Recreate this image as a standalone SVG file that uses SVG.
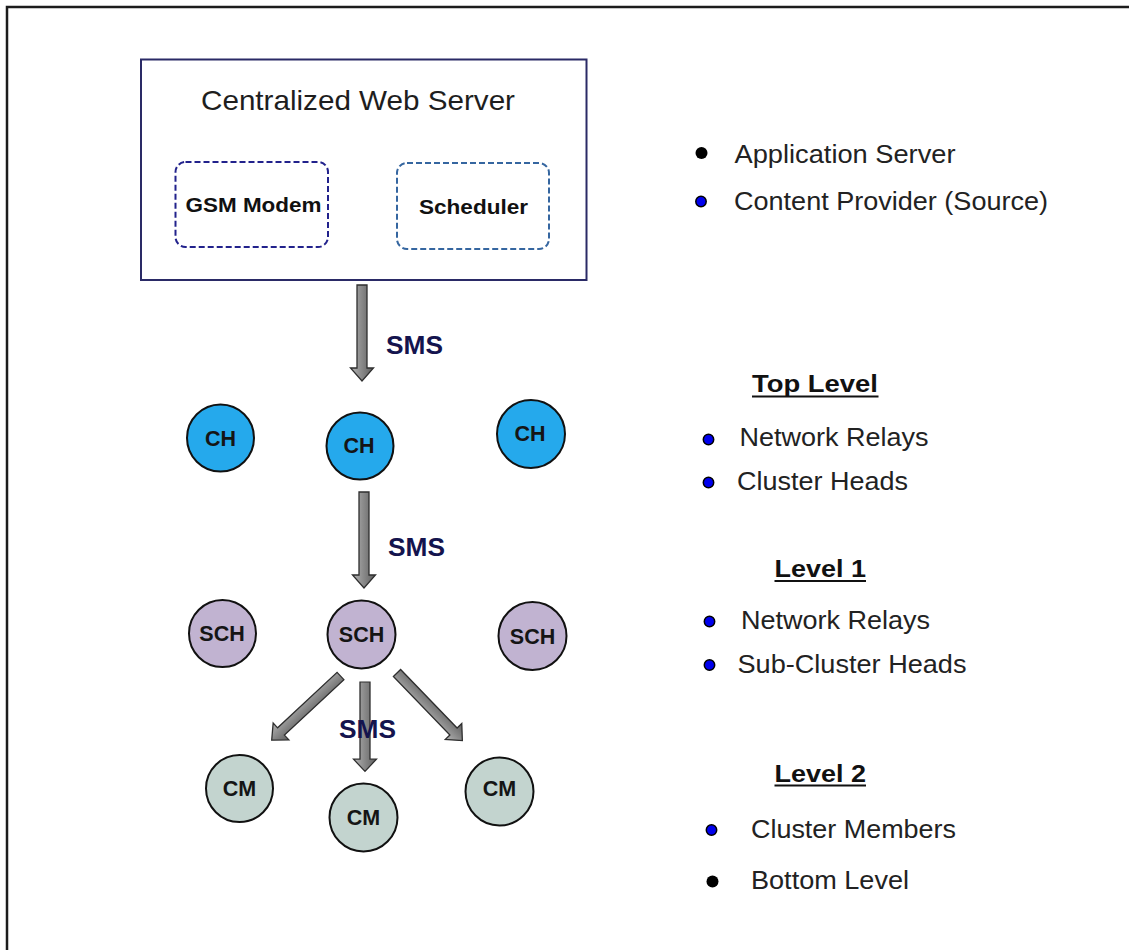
<svg xmlns="http://www.w3.org/2000/svg" width="1129" height="950" viewBox="0 0 1129 950">
  <defs>
    <linearGradient id="shaftGrad" x1="0" y1="0" x2="1" y2="0">
      <stop offset="0" stop-color="#b4b4b4"/>
      <stop offset="0.45" stop-color="#8c8c8c"/>
      <stop offset="1" stop-color="#5e5e5e"/>
    </linearGradient>
    <!-- block arrow pointing down, tip at (0,96) -->
    <path id="blockArrow" d="M -5 0 L 5 0 L 5 83 L 11.5 83 L 0 96 L -11.5 83 L -5 83 Z"/>
    <style>
      text { font-family: "Liberation Sans", Arial, sans-serif; }
      .title { font-size: 28px; fill: #1e1e1e; }
      .inner { font-size: 21px; font-weight: bold; fill: #111; }
      .sms { font-size: 25px; font-weight: bold; fill: #14144e; }
      .node-label { font-size: 21.5px; font-weight: bold; fill: #151515; text-anchor: middle; }
      .legend { font-size: 25px; fill: #222; }
      .heading { font-size: 24px; font-weight: bold; fill: #111; }
      .underline { stroke: #111; stroke-width: 2; }
      .arrow { fill: url(#shaftGrad); stroke: #2e2e2e; stroke-width: 1.3; }
      .ch { fill: #25a9ec; stroke: #111; stroke-width: 2; }
      .sch { fill: #c1b3d1; stroke: #111; stroke-width: 2; }
      .cm { fill: #c3d4cf; stroke: #111; stroke-width: 2; }
      .dot-black { fill: #000; }
      .dot-blue { fill: #0000ee; stroke: #000; stroke-width: 1.5; }
    </style>
  </defs>

  <rect width="1129" height="950" fill="#ffffff"/>

  <!-- frame -->
  <path d="M 7 950 L 7 7 L 1129 7" fill="none" stroke="#1c1c1c" stroke-width="2.5"/>

  <!-- web server -->
  <g id="web-server">
    <rect x="141" y="59.5" width="445.5" height="220.5" fill="#fff" stroke="#2a2a66" stroke-width="2"/>
    <text class="title" x="358" y="110" text-anchor="middle" textLength="314" lengthAdjust="spacingAndGlyphs">Centralized Web Server</text>
  </g>
  <g id="gsm-modem">
    <rect x="175.5" y="162" width="152.5" height="85" rx="10" fill="none" stroke="#22228c" stroke-width="2" stroke-dasharray="6 3"/>
    <text class="inner" x="253.5" y="212" text-anchor="middle" textLength="136" lengthAdjust="spacingAndGlyphs">GSM Modem</text>
  </g>
  <g id="scheduler">
    <rect x="397" y="163" width="152" height="86" rx="10" fill="none" stroke="#3566a0" stroke-width="2" stroke-dasharray="6 3"/>
    <text class="inner" x="473.5" y="213.5" text-anchor="middle" textLength="109" lengthAdjust="spacingAndGlyphs">Scheduler</text>
  </g>

  <!-- connectors -->
  <g id="connectors">
    <use href="#blockArrow" class="arrow" transform="translate(362 285)"/>
    <use href="#blockArrow" class="arrow" transform="translate(364 492)"/>
    <use href="#blockArrow" class="arrow" transform="translate(340.5 676) rotate(47) scale(1 0.98)"/>
    <use href="#blockArrow" class="arrow" transform="translate(365 682) scale(1 0.93)"/>
    <use href="#blockArrow" class="arrow" transform="translate(397 673) rotate(-44) scale(1 0.98)"/>
    <text class="sms" x="386" y="354" textLength="57" lengthAdjust="spacingAndGlyphs">SMS</text>
    <text class="sms" x="388" y="556" textLength="57" lengthAdjust="spacingAndGlyphs">SMS</text>
    <text class="sms" x="339" y="738" textLength="57" lengthAdjust="spacingAndGlyphs">SMS</text>
  </g>

  <!-- top level: cluster heads -->
  <g id="ch-1"><circle class="ch" cx="220.5" cy="438" r="33.5"/><text class="node-label" x="220.5" y="445.5">CH</text></g>
  <g id="ch-2"><circle class="ch" cx="360" cy="446" r="33.5"/><text class="node-label" x="359" y="452.5">CH</text></g>
  <g id="ch-3"><circle class="ch" cx="531" cy="434" r="34"/><text class="node-label" x="530" y="440.5">CH</text></g>

  <!-- level 1: sub-cluster heads -->
  <g id="sch-1"><circle class="sch" cx="222.5" cy="633.5" r="33.5"/><text class="node-label" x="222" y="641">SCH</text></g>
  <g id="sch-2"><circle class="sch" cx="361.5" cy="634.5" r="34"/><text class="node-label" x="361.5" y="642">SCH</text></g>
  <g id="sch-3"><circle class="sch" cx="532.5" cy="636" r="34"/><text class="node-label" x="532.5" y="643.5">SCH</text></g>

  <!-- level 2: cluster members -->
  <g id="cm-1"><circle class="cm" cx="239.5" cy="788.5" r="33.5"/><text class="node-label" x="239.5" y="795.5">CM</text></g>
  <g id="cm-2"><circle class="cm" cx="363.5" cy="817.5" r="34"/><text class="node-label" x="363.5" y="824.5">CM</text></g>
  <g id="cm-3"><circle class="cm" cx="499.5" cy="791.5" r="34"/><text class="node-label" x="499.5" y="795.5">CM</text></g>

  <!-- legend -->
  <g id="legend-server">
    <circle class="dot-black" cx="701.5" cy="153" r="6"/>
    <text class="legend" x="734.5" y="163" textLength="221" lengthAdjust="spacingAndGlyphs">Application Server</text>
    <circle class="dot-blue" cx="701" cy="201.5" r="5.2"/>
    <text class="legend" x="734" y="210" textLength="314" lengthAdjust="spacingAndGlyphs">Content Provider (Source)</text>
  </g>
  <g id="legend-top-level">
    <text class="heading" x="752" y="392" textLength="126" lengthAdjust="spacingAndGlyphs">Top Level</text>
    <line class="underline" x1="752" y1="396.5" x2="878.5" y2="396.5"/>
    <circle class="dot-blue" cx="708.5" cy="439.5" r="5.2"/>
    <text class="legend" x="739.5" y="446" textLength="189" lengthAdjust="spacingAndGlyphs">Network Relays</text>
    <circle class="dot-blue" cx="708.5" cy="482.5" r="5.2"/>
    <text class="legend" x="737" y="489.5" textLength="171" lengthAdjust="spacingAndGlyphs">Cluster Heads</text>
  </g>
  <g id="legend-level-1">
    <text class="heading" x="774.5" y="577" textLength="91.5" lengthAdjust="spacingAndGlyphs">Level 1</text>
    <line class="underline" x1="774.5" y1="581" x2="866" y2="581"/>
    <circle class="dot-blue" cx="709.5" cy="621.5" r="5.2"/>
    <text class="legend" x="741" y="628.5" textLength="189" lengthAdjust="spacingAndGlyphs">Network Relays</text>
    <circle class="dot-blue" cx="709.5" cy="665" r="5.2"/>
    <text class="legend" x="737.5" y="673" textLength="229" lengthAdjust="spacingAndGlyphs">Sub-Cluster Heads</text>
  </g>
  <g id="legend-level-2">
    <text class="heading" x="774.5" y="781.5" textLength="91.5" lengthAdjust="spacingAndGlyphs">Level 2</text>
    <line class="underline" x1="774.5" y1="785.5" x2="866" y2="785.5"/>
    <circle class="dot-blue" cx="711.5" cy="830" r="5.2"/>
    <text class="legend" x="751" y="837.5" textLength="205" lengthAdjust="spacingAndGlyphs">Cluster Members</text>
    <circle class="dot-black" cx="712.5" cy="881.5" r="6"/>
    <text class="legend" x="751" y="888.5" textLength="158" lengthAdjust="spacingAndGlyphs">Bottom Level</text>
  </g>
</svg>
